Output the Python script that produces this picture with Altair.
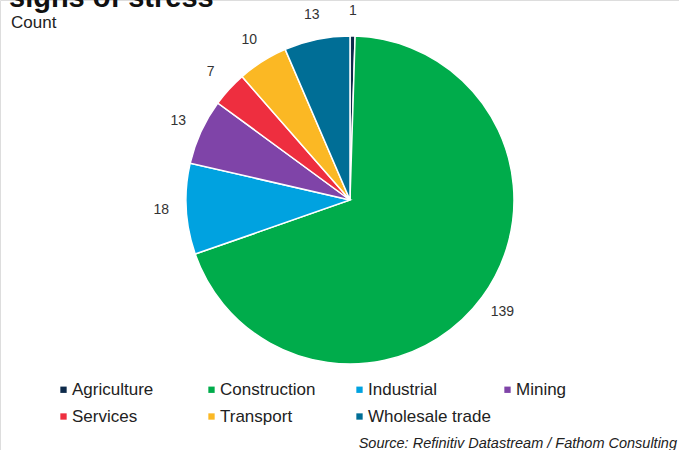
import altair as alt
import pandas as pd

sectors = ["Agriculture", "Construction", "Industrial", "Mining", "Services", "Transport", "Wholesale trade"]
counts = [1, 139, 18, 13, 7, 10, 13]
colors = ["#0d2a4a", "#00ac4b", "#00a2e0", "#7f44a8", "#ee2e3f", "#fbb824", "#006e96"]

df = pd.DataFrame({"sector": sectors, "count": counts, "order": list(range(len(sectors)))})

CX, CY, R = 350, 200, 164

base = alt.Chart(df).encode(
    theta=alt.Theta("count:Q", stack=True),
    order=alt.Order("order:Q"),
)

pie = base.mark_arc(outerRadius=R, stroke="white", strokeWidth=1.5).encode(
    x=alt.value(CX), y=alt.value(CY),
    color=alt.Color(
        "sector:N",
        scale=alt.Scale(domain=sectors, range=colors),
        sort=sectors,
        legend=alt.Legend(
            title=None, orient="none", legendX=55, legendY=381,
            direction="horizontal", columns=4, gridAlign="all",
            columnPadding=8, rowPadding=9,
            symbolType="square", symbolSize=40, symbolOffset=0,
            labelFont="Liberation Sans", labelFontSize=17, labelColor="#222222",
            labelOffset=0, symbolStrokeWidth=0,
        ),
    ),
)

labels = base.mark_text(radius=189, font="Liberation Sans", fontSize=14, color="#333333").encode(
    x=alt.value(CX), y=alt.value(CY), text="count:Q",
)

title = alt.Chart(pd.DataFrame({"t": ["signs of stress"]})).mark_text(
    align="left", baseline="alphabetic", font="Liberation Sans", fontSize=29, fontWeight="bold", color="#111111"
).encode(x=alt.value(9), y=alt.value(7), text="t:N")

subtitle = alt.Chart(pd.DataFrame({"t": ["Count"]})).mark_text(
    align="left", baseline="alphabetic", font="Liberation Sans", fontSize=17, color="#222222"
).encode(x=alt.value(11), y=alt.value(28), text="t:N")

source = alt.Chart(pd.DataFrame({"t": ["Source: Refinitiv Datastream / Fathom Consulting"]})).mark_text(
    align="right", baseline="alphabetic", font="Liberation Sans", fontSize=14.5, fontStyle="italic", color="#222222"
).encode(x=alt.value(677), y=alt.value(448), text="t:N")

chart = alt.layer(pie, labels, title, subtitle, source).properties(
    width=679, height=450, autosize=alt.AutoSizeParams(type="none"), padding=0,
).configure_view(stroke=None).configure(background="white")

chart.save("out.html", embed_options={"renderer": "svg", "actions": False})
